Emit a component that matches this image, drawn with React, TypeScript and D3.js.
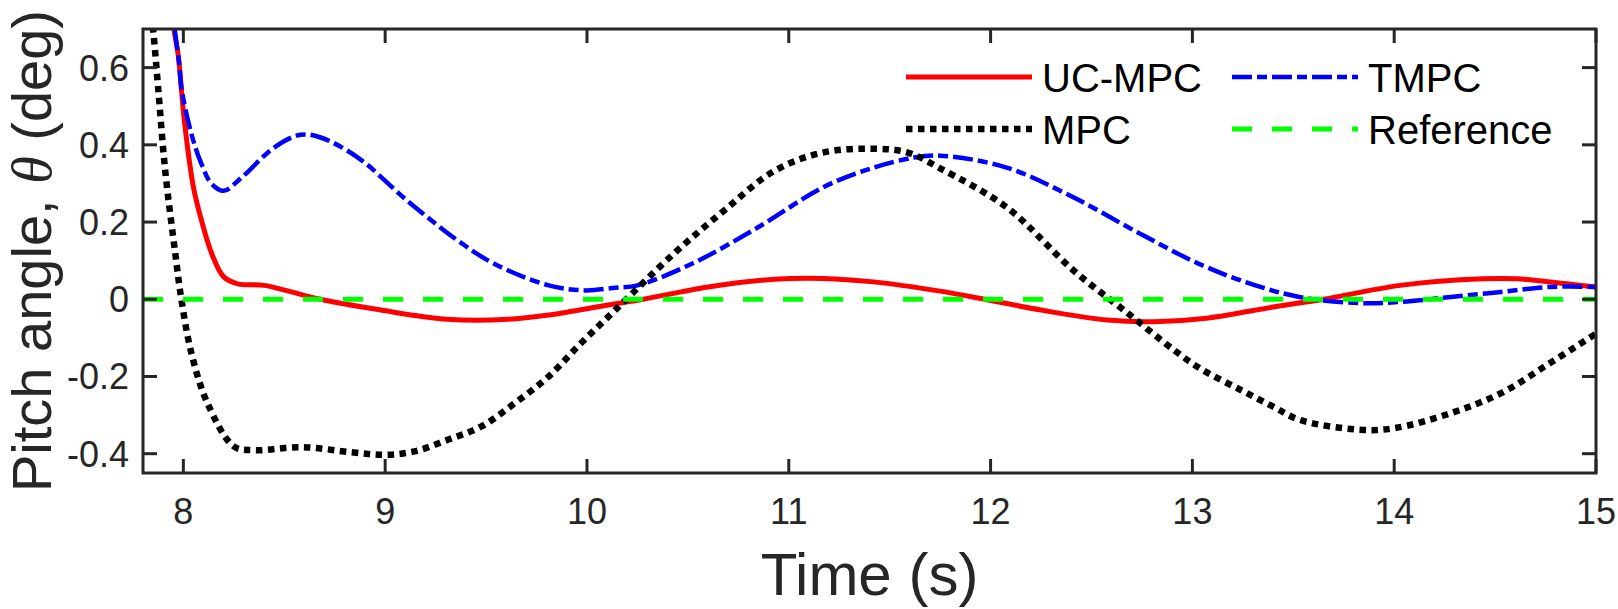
import { useEffect, useRef } from 'react';
import * as d3 from 'd3';

// ── Data ──

const X_TICKS = [8, 9, 10, 11, 12, 13, 14, 15];
const Y_TICKS = [-0.4, -0.2, 0, 0.2, 0.4, 0.6];
const Y_TICK_LABELS = ['-0.4', '-0.2', '0', '0.2', '0.4', '0.6'];

const UC_T = [7.93, 7.953, 7.974, 8.005, 8.05, 8.09, 8.14, 8.2, 8.27, 8.4, 8.535, 8.68, 8.98, 9.31, 9.61, 9.81, 9.97, 10.15, 10.28, 10.6, 10.93, 11.17, 11.42, 11.75, 11.97, 12.25, 12.58, 12.81, 13.07, 13.4, 13.65, 14.03, 14.44, 14.61, 14.855, 15];
const UC_V = [0.8, 0.7, 0.634, 0.462, 0.29, 0.204, 0.119, 0.058, 0.04, 0.036, 0.019, 0.0, -0.028, -0.052, -0.052, -0.041, -0.027, -0.011, 0.0, 0.032, 0.052, 0.054, 0.045, 0.021, 0.0, -0.028, -0.054, -0.058, -0.049, -0.02, 0.0, 0.036, 0.053, 0.053, 0.04, 0.032];

const TMPC_T = [7.94, 7.957, 7.98, 7.99, 8.04, 8.09, 8.14, 8.2, 8.29, 8.45, 8.58, 8.68, 8.865, 9.11, 9.36, 9.54, 9.81, 9.99, 10.14, 10.25, 10.52, 10.85, 11.17, 11.42, 11.62, 11.75, 12.08, 12.41, 12.74, 13.04, 13.29, 13.53, 13.83, 14.03, 14.28, 14.53, 14.77, 15];
const TMPC_V = [0.8, 0.7, 0.608, 0.548, 0.428, 0.35, 0.299, 0.281, 0.316, 0.393, 0.426, 0.419, 0.367, 0.255, 0.152, 0.092, 0.036, 0.023, 0.03, 0.036, 0.092, 0.187, 0.29, 0.341, 0.367, 0.372, 0.341, 0.264, 0.17, 0.09, 0.04, 0.006, -0.01, -0.007, 0.006, 0.019, 0.032, 0.032];

const MPC_T = [7.83, 7.85, 7.875, 7.91, 7.96, 7.99, 8.04, 8.12, 8.25, 8.35, 8.585, 8.83, 9.0, 9.145, 9.31, 9.475, 9.64, 9.81, 9.97, 10.14, 10.43, 10.68, 10.93, 11.17, 11.42, 11.59, 11.75, 12.08, 12.41, 12.66, 12.91, 13.04, 13.24, 13.4, 13.53, 13.83, 14.0, 14.28, 14.53, 14.77, 15];
const MPC_V = [0.8, 0.7, 0.548, 0.333, 0.118, 0.0, -0.14, -0.27, -0.381, -0.391, -0.383, -0.396, -0.403, -0.394, -0.364, -0.33, -0.27, -0.2, -0.114, -0.028, 0.118, 0.23, 0.333, 0.38, 0.39, 0.38, 0.339, 0.238, 0.075, -0.028, -0.132, -0.18, -0.235, -0.278, -0.312, -0.338, -0.334, -0.295, -0.243, -0.166, -0.089];

const REF_T = [7.8, 15];
const REF_V = [0, 0];

// ── Layout / style ──

const W = 1618;
const H = 609;
const PLOT = { left: 143, right: 1596, top: 29, bottom: 473 };
const AXIS_COLOR = '#262626';
const FONT = "'Liberation Sans', Arial, Helvetica, sans-serif";
const TICK_LEN = 14;

interface Series {
  name: string;
  t: number[];
  v: number[];
  color: string;
  width: number;
  dash: string | null;
}

const SERIES: Series[] = [
  { name: 'UC-MPC', t: UC_T, v: UC_V, color: '#ff0000', width: 5, dash: null },
  { name: 'TMPC', t: TMPC_T, v: TMPC_V, color: '#0000ff', width: 4.5, dash: '20 5 10 5' },
  { name: 'MPC', t: MPC_T, v: MPC_V, color: '#000000', width: 6.5, dash: '6.5 5.5' },
  { name: 'Reference', t: REF_T, v: REF_V, color: '#00ff00', width: 5, dash: '20 20' },
];

// legend: two columns, row-wise UC-MPC / TMPC, MPC / Reference
const LEGEND = [
  { name: 'UC-MPC', col: 0, row: 0 },
  { name: 'TMPC', col: 1, row: 0 },
  { name: 'MPC', col: 0, row: 1 },
  { name: 'Reference', col: 1, row: 1 },
];
const LEG_COL_X = [906, 1232];
const LEG_ROW_Y = [77, 129];
const LEG_LINE_LEN = 126;

export default function App() {
  const svgRef = useRef<SVGSVGElement>(null);

  useEffect(() => {
    const svgEl = svgRef.current;
    if (!svgEl) return;
    const svg = d3.select(svgEl);
    svg.selectAll('*').remove();

    const x = d3.scaleLinear().domain([7.8, 15]).range([PLOT.left, PLOT.right]);
    const y = d3.scaleLinear().domain([-0.45, 0.7]).range([PLOT.bottom, PLOT.top]);

    svg
      .append('defs')
      .append('clipPath')
      .attr('id', 'plot-clip')
      .append('rect')
      .attr('x', PLOT.left)
      .attr('y', PLOT.top)
      .attr('width', PLOT.right - PLOT.left)
      .attr('height', PLOT.bottom - PLOT.top);

    // Curves
    const line = d3
      .line<[number, number]>()
      .x((d) => x(d[0]))
      .y((d) => y(d[1]))
      .curve(d3.curveCatmullRom.alpha(0.5));

    const curves = svg.append('g').attr('clip-path', 'url(#plot-clip)');
    const drawOrder = ['UC-MPC', 'TMPC', 'MPC', 'Reference'];
    drawOrder.forEach((name) => {
      const s = SERIES.find((d) => d.name === name)!;
      const pts: [number, number][] = s.t.map((t, i) => [t, s.v[i]]);
      curves
        .append('path')
        .attr('d', line(pts))
        .attr('fill', 'none')
        .attr('stroke', s.color)
        .attr('stroke-width', s.width)
        .attr('stroke-dasharray', s.dash)
        .attr('stroke-linejoin', 'round');
    });

    // Axes box + ticks (inside, mirrored)
    const axes = svg.append('g').attr('stroke', AXIS_COLOR).attr('stroke-width', 3);
    X_TICKS.forEach((t) => {
      const px = x(t);
      axes.append('line').attr('x1', px).attr('x2', px).attr('y1', PLOT.bottom).attr('y2', PLOT.bottom - TICK_LEN);
      axes.append('line').attr('x1', px).attr('x2', px).attr('y1', PLOT.top).attr('y2', PLOT.top + TICK_LEN);
    });
    Y_TICKS.forEach((v) => {
      const py = y(v);
      axes.append('line').attr('x1', PLOT.left).attr('x2', PLOT.left + TICK_LEN).attr('y1', py).attr('y2', py);
      axes.append('line').attr('x1', PLOT.right).attr('x2', PLOT.right - TICK_LEN).attr('y1', py).attr('y2', py);
    });
    axes
      .append('rect')
      .attr('x', PLOT.left)
      .attr('y', PLOT.top)
      .attr('width', PLOT.right - PLOT.left)
      .attr('height', PLOT.bottom - PLOT.top)
      .attr('fill', 'none')
      .attr('stroke-linejoin', 'miter');

    // Tick labels
    const labels = svg.append('g').attr('font-family', FONT).attr('fill', AXIS_COLOR);
    labels
      .selectAll('.xtl')
      .data(X_TICKS)
      .enter()
      .append('text')
      .attr('x', (d) => x(d))
      .attr('y', 524)
      .attr('text-anchor', 'middle')
      .attr('font-size', 36)
      .text((d) => String(d));
    labels
      .selectAll('.ytl')
      .data(Y_TICKS)
      .enter()
      .append('text')
      .attr('x', 129)
      .attr('y', (d) => y(d) + 13)
      .attr('text-anchor', 'end')
      .attr('font-size', 36)
      .text((_d, i) => Y_TICK_LABELS[i]);

    // Axis titles
    labels
      .append('text')
      .attr('x', (PLOT.left + PLOT.right) / 2)
      .attr('y', 595)
      .attr('text-anchor', 'middle')
      .attr('font-size', 60)
      .text('Time (s)');

    const yl = labels
      .append('text')
      .attr('transform', `translate(51,${(PLOT.top + PLOT.bottom) / 2}) rotate(-90)`)
      .attr('text-anchor', 'middle')
      .attr('font-size', 56);
    yl.append('tspan').text('Pitch angle, ');
    yl.append('tspan')
      .attr('font-family', "'Liberation Serif', 'Times New Roman', serif")
      .attr('font-style', 'italic')
      .text('θ');
    yl.append('tspan').text(' (deg)');

    // Legend
    const leg = svg.append('g');
    LEGEND.forEach((item) => {
      const s = SERIES.find((d) => d.name === item.name)!;
      const lx = LEG_COL_X[item.col];
      const ly = LEG_ROW_Y[item.row];
      leg
        .append('line')
        .attr('x1', lx)
        .attr('x2', lx + LEG_LINE_LEN)
        .attr('y1', ly)
        .attr('y2', ly)
        .attr('stroke', s.color)
        .attr('stroke-width', s.width)
        .attr('stroke-dasharray', s.dash);
      leg
        .append('text')
        .attr('x', lx + LEG_LINE_LEN + 10)
        .attr('y', ly + 15)
        .attr('font-family', FONT)
        .attr('font-size', 40)
        .attr('fill', '#000000')
        .text(s.name);
    });

    return () => {
      svg.selectAll('*').remove();
    };
  }, []);

  return (
    <svg
      ref={svgRef}
      width={W}
      height={H}
      viewBox={`0 0 ${W} ${H}`}
      style={{ position: 'absolute', left: 0, top: 0, background: '#ffffff', display: 'block' }}
    />
  );
}
